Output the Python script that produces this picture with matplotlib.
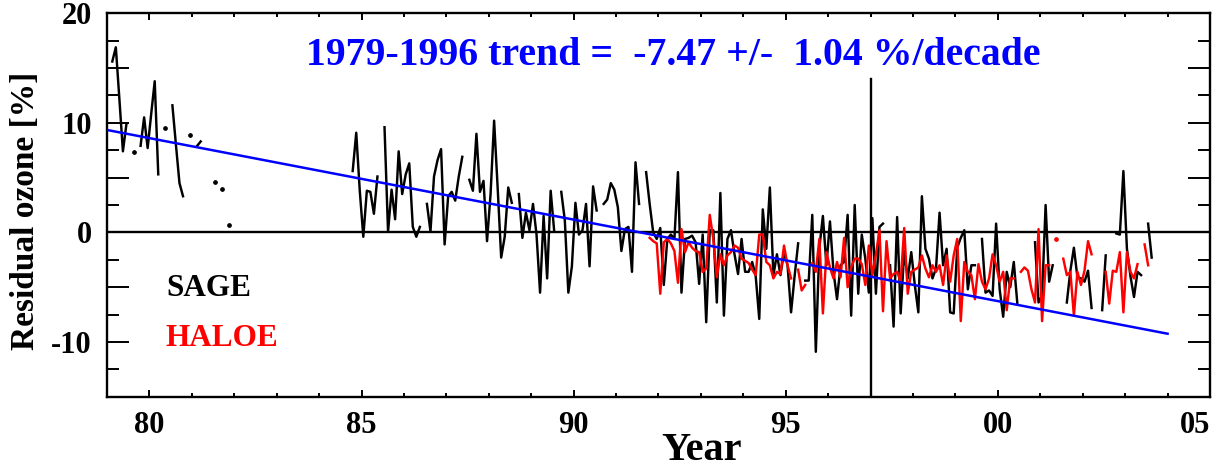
import numpy as np
import matplotlib
matplotlib.use("Agg")
import matplotlib.pyplot as plt
from matplotlib.ticker import FixedLocator, MultipleLocator

nan = np.nan

# ---------------- data (monthly residual ozone, %) ----------------
# SAGE I: Feb 1979 - Nov 1981
sage1_start = (1979, 2)
sage1_values = [15.6, 16.9, 12.2, 7.4, 9.9, nan, 7.3, nan, 7.9, 10.5, 7.7,
                10.8, 13.8, 5.3, nan, 9.5, nan, 11.6, 8.0, 4.5, 3.3, nan, 8.9,
                nan, 7.9, 8.3, nan, nan, nan, 4.6, nan, 4.0, nan, 0.7]

# SAGE II: Oct 1984 - Aug 2003
sage2_start = (1984, 10)
sage2_values = [
    5.6, 9.1, 3.8,
    -0.4, 3.8, 3.7, 1.7, 5.1, nan, 9.6, 0.05, 3.9, 1.2, 7.4, 3.5,
    5.3, 6.3, 0.5, -0.4, 0.5, nan, 2.6, 0.1, 5.1, 6.6, 7.6, -1.1,
    3.3, 3.7, 2.9, 5.1, 6.9, nan, 4.8, 3.8, 9.0, 3.7, 4.7, -0.8,
    3.5, 10.2, 4.1, -2.3, -0.4, 4.1, 2.7, nan, 3.5, -0.5, 1.8, 0.2,
    2.6, -0.2, -5.5, 1.5, -4.2, 3.8, 0.1, nan, 3.7, 1.1, -5.5, -3.1,
    2.7, -0.2, 0.2, 2.6, -3.1, 4.2, 2.0, nan, 2.6, 3.0, 4.5, 3.9,
    2.3, -1.7, 0.3, 0.5, -3.6, 6.4, 2.6, nan, 5.5, 2.6, 0.0, -0.6,
    0.4, -4.8, -0.6, -0.2, -0.6, 5.5, -5.5, -0.6, -0.5, -0.3, -0.9, -4.7,
    -0.2, -8.2, 0.2, 0.2, -6.4, 3.6, -7.6, -0.6, 0.2, -2.0, -3.8, -0.6,
    -3.6, -3.6, -2.7, -4.0, -7.9, 2.1, -1.5, 4.1, -3.9, -2.0, -3.9, -1.8,
    -3.0, -7.3, -4.0, -1.0, nan, -4.4, -4.4, 1.6, -10.9, -1.4, 1.5, -3.0,
    1.0, -3.6, -6.1, -3.0, -2.7, 1.6, -7.6, 2.5, -5.6, -0.2, -2.4, -5.5,
    1.3, -5.6, 0.5, 0.8, nan, -3.0, -8.6, 1.4, -7.4, -1.7, -4.2, -1.8,
    -4.8, -7.3, 3.3, -1.5, -2.4, -4.2, -3.3, 1.8, -3.0, -1.5, -7.3, -7.4,
    -1.4, -0.5, 0.2, -5.2, -3.0, -3.0, nan, -0.6, -5.5, -5.3, -5.8, 0.8,
    -5.2, -7.7, -3.6, -5.0, -2.7, -6.5, nan, nan, nan, nan, -0.9, -6.4,
    -5.8, 2.5, -4.5, -3.0, nan, nan, nan, -6.4, -3.5, -1.4, -4.1, -4.2,
    -4.5, -3.5, -6.9, nan, nan, -7.1, -2.1, nan, nan, -0.1, -0.2, 5.6,
    -1.5, -4.0, -5.9, -3.6, -3.9, nan, 0.8, -2.3]

# HALOE: Oct 1991 - Jul 2003
haloe_start = (1991, 10)
haloe_values = [
    -0.5, -0.8, -1.0,
    -5.6, -0.9, -0.6, -1.0, -1.7, -4.6, 0.3, -1.8, -0.9, -1.4, -1.7, -1.8,
    -3.6, -3.3, 1.6, -0.6, -4.1, -2.0, -3.0, -2.1, -1.8, -1.2, -1.4, -2.4,
    -2.6, -2.8, -3.4, -3.9, -0.2, -0.2, -2.7, -3.0, -4.2, -3.6, -3.8, -1.2,
    -3.0, -4.2, nan, -3.4, -5.3, -4.8, nan, -2.8, -3.6, -0.6, -7.4, -1.8,
    -3.2, -4.2, -2.7, -4.1, -0.5, -5.0, -3.2, -2.4, -2.4, -2.9, -4.8, -1.2,
    -3.9, -2.0, 0.2, -7.2, -0.8, -4.2, -3.8, -3.6, -4.5, 0.4, -5.6, -3.6,
    -3.4, -3.2, -2.1, -3.3, -4.1, -3.0, -3.6, -3.0, -4.8, -2.1, -4.5, -2.1,
    -0.6, -8.1, -2.7, -3.6, -3.9, -6.1, -2.9, -4.5, -5.2, -4.2, -2.0, -3.0,
    -4.5, -3.6, -7.1, -4.2, -4.2, nan, -3.6, -3.2, -3.5, -5.2, -6.4, 0.3,
    -8.1, -3.0, -3.0, nan, -0.6, nan, -2.4, -3.9, -3.6, -7.6, -3.6, -4.8,
    -3.5, -0.8, -2.0, nan, nan, nan, -3.6, -6.5, -3.5, -3.6, -1.8, -7.3,
    -1.8, -3.6, -4.2, -2.9, nan, -1.1, -3.0]

# linear trend line (1979-1996 fit, extended)
trend_years = [1979.0, 2004.0]
trend_values = [9.35, -9.25]

# vertical marker at 1997
marker_year = 1997.0
marker_top = 14.0

title_text = "1979-1996 trend =  -7.47 +/-  1.04 %/decade"
x_major = [1980, 1985, 1990, 1995, 2000, 2005]
x_labels = ["80", "85", "90", "95", "00", "05"]
y_labeled = [-10, 0, 10, 20]


def monthly_axis(start, n):
    y0, m0 = start
    return y0 + (m0 - 0.5) / 12.0 + np.arange(n) / 12.0


def isolated(v):
    v = np.asarray(v, dtype=float)
    ok = np.isfinite(v)
    left = np.r_[False, ok[:-1]]
    right = np.r_[ok[1:], False]
    return ok & ~left & ~right


plt.rcParams["font.family"] = ["Liberation Serif", "DejaVu Serif"]
plt.rcParams["font.weight"] = "bold"

fig = plt.figure(figsize=(12.12, 4.68), dpi=100)
ax = fig.add_axes([0.08828, 0.15235, 0.91007, 0.81923])

ax.set_xlim(1979, 2005)
ax.set_ylim(-15, 20)

ax.axhline(0, color="black", lw=1.7, zorder=1)
ax.plot([marker_year, marker_year], [-15, marker_top], color="black", lw=1.7, zorder=1)

lw = 1.75
for start, vals, col in [(sage1_start, sage1_values, "black"),
                         (sage2_start, sage2_values, "black"),
                         (haloe_start, haloe_values, "red")]:
    v = np.asarray(vals, dtype=float)
    t = monthly_axis(start, len(v))
    ax.plot(t, v, color=col, lw=lw, zorder=2)
    iso = isolated(v)
    ax.plot(t[iso], v[iso], ls="none", marker="o", ms=2.4, color=col, zorder=2)

ax.plot(trend_years, trend_values, color="blue", lw=1.8, zorder=3)

ax.text(1983.69, 15.3, title_text, color="blue", fontsize=28.6,
        fontweight="bold", ha="left", va="baseline")
ax.text(1980.39, -5.82, "SAGE", color="black", fontsize=22.5,
        fontweight="bold", ha="left", va="baseline")
ax.text(1980.39, -10.4, "HALOE", color="red", fontsize=22.5,
        fontweight="bold", ha="left", va="baseline")

# ticks
ax.xaxis.set_major_locator(FixedLocator(x_major))
ax.set_xticklabels(x_labels)
ax.xaxis.set_minor_locator(MultipleLocator(1))
ax.yaxis.set_major_locator(MultipleLocator(5))
ax.yaxis.set_minor_locator(MultipleLocator(2.5))
yt = ax.get_yticks()
ax.set_yticks(yt)
ax.set_yticklabels([("%d" % t) if int(round(t)) in y_labeled else "" for t in yt])
ax.set_ylim(-15, 20)

ax.tick_params(axis="x", which="major", direction="in", length=5, width=1.4,
               top=True, labelsize=22, pad=10)
ax.tick_params(axis="x", which="minor", direction="in", length=3, width=1.4, top=True)
ax.tick_params(axis="y", which="major", direction="in", length=16, width=1.4,
               right=True, labelsize=22, pad=11)
ax.tick_params(axis="y", which="minor", direction="in", length=8.5, width=1.4, right=True)
for lab in ax.get_xticklabels() + ax.get_yticklabels():
    lab.set_fontweight("bold")
xl = ax.get_xticklabels()
xl[-1].set_horizontalalignment("right")

for s in ax.spines.values():
    s.set_linewidth(1.7)

ax.set_xlabel("Year", fontsize=29, fontweight="bold")
ax.xaxis.set_label_coords(0.539, -0.1416)
ax.xaxis.label.set_verticalalignment("center")
ax.set_ylabel("Residual ozone [%]", fontsize=24, fontweight="bold")
ax.yaxis.set_label_coords(-0.0743, 0.484)
ax.yaxis.label.set_verticalalignment("center")

fig.savefig("out.png", dpi=100)
